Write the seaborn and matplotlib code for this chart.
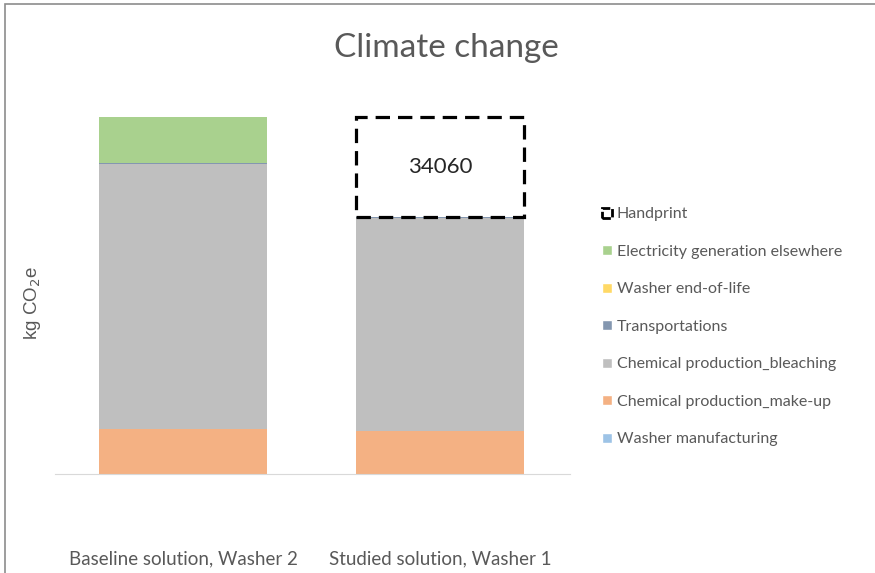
import numpy as np
import pandas as pd
import matplotlib.pyplot as plt
import seaborn as sns
from matplotlib.patches import Patch, Rectangle

solutions = ["Baseline solution, Washer 2", "Studied solution, Washer 1"]

# kg CO2e per component
washer_manufacturing = [50, 50]
chem_makeup = [15300, 14700]
chem_bleaching = [90500, 72800]
transportations = [350, 300]
washer_eol = [20, 20]
electricity = [15700, 0]
handprint = [0, 34060]

components = ["Washer manufacturing", "Chemical production_make-up",
              "Chemical production_bleaching", "Transportations",
              "Washer end-of-life", "Electricity generation elsewhere"]
values = [washer_manufacturing, chem_makeup, chem_bleaching,
          transportations, washer_eol, electricity]
colors = ["#9dc3e6", "#f4b183", "#bfbfbf", "#8497b0", "#ffd966", "#a9d18e"]

sns.set_style("white")
plt.rcParams["font.family"] = ["Lato", "DejaVu Sans"]
txt = "#595959"

fig = plt.figure(figsize=(8.75, 5.73), dpi=100)
ax = fig.add_axes([55 / 875, 99 / 573, 515 / 875, (474 - 97) / 573])

df = pd.DataFrame({"solution": solutions})
bottom = np.zeros(2)
for name, vals, c in zip(components, values, colors):
    df["v"] = vals
    sns.barplot(data=df, x="solution", y="v", bottom=bottom, color=c,
                width=0.654, ax=ax, linewidth=0, saturation=1)
    bottom = bottom + np.array(vals)

# handprint as dashed empty box on top of the studied bar
df["v"] = handprint
n_before = len(ax.patches)
sns.barplot(data=df, x="solution", y="v", bottom=bottom, color="white",
            width=0.654, ax=ax, saturation=1, edgecolor="black",
            linewidth=2.3, linestyle=(0, (4.5, 2.5)), fill=False)
for p in list(ax.patches[n_before:]):
    if p.get_height() == 0:
        p.remove()
for i, h in enumerate(handprint):
    if h > 0:
        ax.text(i, bottom[i] + h / 2, str(h), ha="center", va="center",
                fontsize=16, color="#262626")

total = 121950
ax.set_ylim(0, total * 377 / 357)
ax.set_xlim(-0.5, 1.505)
ax.set_yticks([])
ax.set_xlabel("")
ax.set_ylabel("kg CO$_2$e", color=txt, fontsize=13.5,
              family=["Liberation Sans", "DejaVu Sans"])
ax.yaxis.set_label_coords(-12 / 515, (474 - 303) / 377)
ax.tick_params(axis="x", length=0, pad=55, labelsize=13.5, labelcolor=txt)
for s in ["top", "right", "left"]:
    ax.spines[s].set_visible(False)
ax.spines["bottom"].set_color("#d9d9d9")
for p in ax.patches:
    p.set_clip_on(False)

fig.text(446 / 875, 1 - 48 / 573, "Climate change", ha="center", va="center",
         fontsize=24, color=txt)

handles = [Patch(facecolor="white", edgecolor="black", linewidth=2,
                 linestyle=(0, (3, 1)), label="Handprint")]
for name, c in reversed(list(zip(components, colors))):
    handles.append(Patch(facecolor=c, label=name))
fig.legend(handles=handles, loc="upper left",
           bbox_to_anchor=(588 / 875, 1 - 193 / 573), frameon=False,
           fontsize=11.5, labelcolor=txt, handlelength=0.6, handleheight=0.6,
           handletextpad=0.3, labelspacing=1.47)

fig.patches.append(Rectangle((5 / 875, -0.1), 1.2, 1.1 - 4 / 573,
                             transform=fig.transFigure, fill=False,
                             edgecolor="#8c8c8c", linewidth=1.2))

fig.savefig("out.png", dpi=100)
